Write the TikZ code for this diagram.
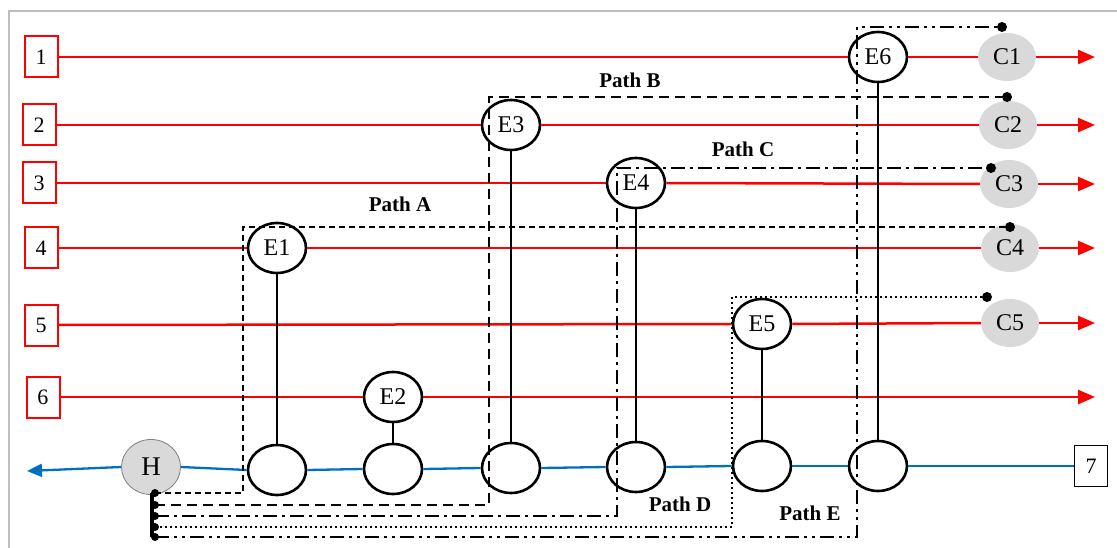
\documentclass[tikz,border=0pt]{standalone}
\usepackage{fontspec}
\setmainfont{Liberation Serif}
\usetikzlibrary{shapes.geometric,arrows.meta}
\definecolor{redl}{RGB}{255,0,0}
\definecolor{bluel}{RGB}{0,112,192}
\definecolor{grayf}{RGB}{217,217,217}
\definecolor{framec}{RGB}{190,190,190}
\begin{document}
\begin{tikzpicture}[x=1pt,y=-1pt,
 srcbox/.style={draw=redl,line width=2pt,fill=white,minimum width=33pt,minimum height=41pt,inner sep=0pt,font=\fontsize{22}{22}\selectfont},
 outbox/.style={draw=black,line width=1.8pt,fill=white,minimum width=33pt,minimum height=41pt,inner sep=0pt,font=\fontsize{22}{22}\selectfont},
 enode/.style={ellipse,draw,line width=2.6pt,fill=white,minimum width=58pt,minimum height=50pt,inner sep=0pt,font=\fontsize{24}{24}\selectfont},
 cnode/.style={ellipse,fill=grayf,minimum width=58pt,minimum height=48pt,inner sep=0pt,font=\fontsize{24}{24}\selectfont},
 hnode/.style={ellipse,draw=gray,line width=0.8pt,fill=grayf,minimum width=59pt,minimum height=55pt,inner sep=0pt,font=\fontsize{27}{27}\selectfont},
 redline/.style={draw=redl,line width=2.5pt},
 redarrow/.style={redline,-{Triangle[length=17pt,width=14pt]}},
 blueline/.style={draw=bluel,line width=2.3pt},
 bluearrow/.style={blueline,-{Triangle[length=15pt,width=13pt]}},
 link/.style={draw=black,line width=2.8pt},
 pathA/.style={draw=black,line width=2.3pt,dash pattern=on 6pt off 4pt},
 pathB/.style={draw=black,line width=2.3pt,dash pattern=on 10pt off 6pt},
 pathC/.style={draw=black,line width=2.3pt,dash pattern=on 14pt off 5pt on 3pt off 5pt},
 pathD/.style={draw=black,line width=2.3pt,dash pattern=on 2pt off 3pt},
 pathE/.style={draw=black,line width=2.3pt,dash pattern=on 14pt off 5pt on 3pt off 5pt on 3pt off 5pt},
 plabel/.style={font=\bfseries\fontsize{21}{21}\selectfont,inner sep=0pt},
 dot/.style={circle,fill=black,inner sep=0pt,minimum size=10pt},
 sdot/.style={circle,fill=black,inner sep=0pt,minimum size=8pt}
]
\useasboundingbox (0,0) rectangle (1117,548);
\draw[framec,line width=1.5pt] (9,548) -- (9,11) -- (1117,11);

% source boxes
\node[srcbox] (s1) at (41,57) {1};
\node[srcbox] (s2) at (39,125) {2};
\node[srcbox] (s3) at (39,183) {3};
\node[srcbox] (s4) at (41,248) {4};
\node[srcbox] (s5) at (41,325) {5};
\node[srcbox] (s6) at (43,397) {6};

% E nodes
\node[enode] (E1) at (277,248) {E1};
\node[enode] (E2) at (393,397) {E2};
\node[enode] (E3) at (511,125) {E3};
\node[enode] (E4) at (636,183) {E4};
\node[enode] (E5) at (762,324) {E5};
\node[enode] (E6) at (878,57) {E6};

% C nodes
\node[cnode] (C1) at (1007,57) {C1};
\node[cnode] (C2) at (1008,125) {C2};
\node[cnode] (C3) at (1009,184) {C3};
\node[cnode] (C4) at (1010,248) {C4};
\node[cnode] (C5) at (1010,323) {C5};

% arrow ends
\coordinate (o1) at (1095,57);
\coordinate (o2) at (1095,125);
\coordinate (o3) at (1095,184);
\coordinate (o4) at (1095,248);
\coordinate (o5) at (1095,323);
\coordinate (o6) at (1095,397);

% bottom nodes
\node[hnode] (H) at (151,467) {H};
\node[enode] (B1) at (277,470) {};
\node[enode] (B2) at (393,469) {};
\node[enode] (B3) at (511,468) {};
\node[enode] (B4) at (636,467) {};
\node[enode] (B5) at (762,466) {};
\node[enode] (B6) at (878,466) {};
\node[outbox] (s7) at (1091,466) {7};
\coordinate (hout) at (27,471);

% red lines
\draw[redline] (s1.east) -- (E6.west);
\draw[redline] (E6.east) -- (C1.west);
\draw[redarrow] (C1.east) -- (o1);
\draw[redline] (s2.east) -- (E3.west);
\draw[redline] (E3.east) -- (C2.west);
\draw[redarrow] (C2.east) -- (o2);
\draw[redline] (s3.east) -- (E4.west);
\draw[redline] (E4.east) -- (C3.west);
\draw[redarrow] (C3.east) -- (o3);
\draw[redline] (s4.east) -- (E1.west);
\draw[redline] (E1.east) -- (C4.west);
\draw[redarrow] (C4.east) -- (o4);
\draw[redline] (s5.east) -- (E5.west);
\draw[redline] (E5.east) -- (C5.west);
\draw[redarrow] (C5.east) -- (o5);
\draw[redline] (s6.east) -- (E2.west);
\draw[redarrow] (E2.east) -- (o6);

% blue line
\draw[bluearrow] (H.west) -- (hout);
\draw[blueline] (H.east) -- (B1.west);
\draw[blueline] (B1.east) -- (B2.west);
\draw[blueline] (B2.east) -- (B3.west);
\draw[blueline] (B3.east) -- (B4.west);
\draw[blueline] (B4.east) -- (B5.west);
\draw[blueline] (B5.east) -- (B6.west);
\draw[blueline] (B6.east) -- (s7.west);

% links
\draw[link] (E1.south) -- (B1.north);
\draw[link] (E2.south) -- (B2.north);
\draw[link] (E3.south) -- (B3.north);
\draw[link] (E4.south) -- (B4.north);
\draw[link] (E5.south) -- (B5.north);
\draw[link] (E6.south) -- (B6.north);

% paths
\coordinate (pa) at (155,493);
\coordinate (pb) at (155,505);
\coordinate (pc) at (155,516);
\coordinate (pd) at (155,527);
\coordinate (pe) at (155,537);
\coordinate (da) at (1010,227);
\coordinate (db) at (1007,97);
\coordinate (dc) at (991,168);
\coordinate (dd) at (987,297);
\coordinate (de) at (1002,27);
\coordinate (ka) at (243,227);
\coordinate (kb) at (489,97);
\coordinate (kc) at (617,168);
\coordinate (kd) at (732,297);
\coordinate (ke) at (857,27);

\draw[pathA] (pa) -| (ka) -- (da);
\draw[pathB] (pb) -| (kb) -- (db);
\draw[pathC] (pc) -| (kc) -- (dc);
\draw[pathD] (pd) -| (kd) -- (dd);
\draw[pathE] (pe) -| (ke) -- (de);

\draw[line width=4pt] (152,493) -- (152,537);
\foreach \p in {pa,pb,pc,pd,pe} \node[sdot] at (\p) {};
\foreach \p in {da,db,dc,dd,de} \node[dot] at (\p) {};

% labels
\node[plabel] (lA) at (400,204) {Path A};
\node[plabel] (lB) at (630,80) {Path B};
\node[plabel] (lC) at (743,149) {Path C};
\node[plabel] (lD) at (680,504) {Path D};
\node[plabel] (lE) at (810,513) {Path E};
\end{tikzpicture}
\end{document}
